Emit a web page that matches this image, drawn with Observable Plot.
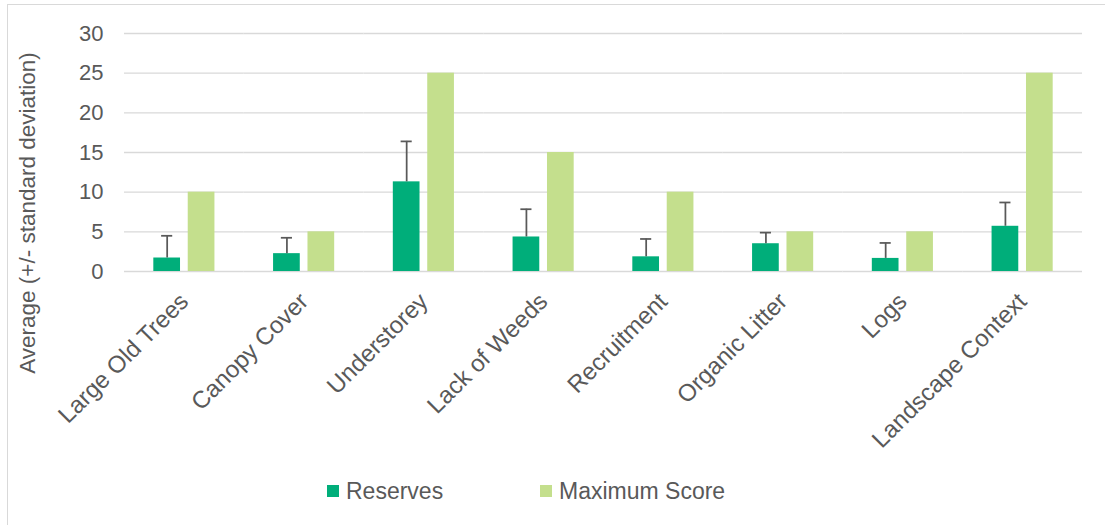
<!DOCTYPE html>
<html>
<head>
<meta charset="utf-8">
<script src="https://cdn.jsdelivr.net/npm/d3@7"></script>
<script src="https://cdn.jsdelivr.net/npm/@observablehq/plot@0.6"></script>
<style>
  body { margin: 0; background: #fff; overflow: hidden; font-family: "Liberation Sans", Arial, sans-serif; }
  #wrap { position: relative; width: 1105px; height: 525px; overflow: hidden; background: #fff; }
  #frame { position: absolute; left: 7px; top: 4px; width: 1120px; height: 540px; border: 1.5px solid #d9d9d9; box-sizing: border-box; }
  #chart { position: absolute; left: 0; top: 0; }
  #ylabel { position: absolute; left: 28px; top: 213px; transform: translate(-50%, -50%) rotate(-90deg); font-size: 22.5px; color: #595959; white-space: nowrap; line-height: 26px; }
  .leg { position: absolute; top: 478px; font-size: 23px; color: #595959; display: flex; align-items: center; white-space: nowrap; line-height: 26px; }
  .sw { width: 12px; height: 12px; margin-right: 7px; display: inline-block; }
</style>
</head>
<body>
<div id="wrap">
  <div id="frame"></div>
  <div id="chart"></div>
  <div id="ylabel"></div>
  <div id="legend"></div>
</div>
<script>
const categories = ["Large Old Trees", "Canopy Cover", "Understorey", "Lack of Weeds", "Recruitment", "Organic Litter", "Logs", "Landscape Context"];
const series = ["Reserves", "Maximum Score"];
const reserveMeans = [1.7, 2.25, 11.3, 4.35, 1.85, 3.5, 1.65, 5.7];
const reserveSD = [2.8, 2.0, 5.1, 3.5, 2.25, 1.4, 1.95, 3.0];
const maxScores = [10, 5, 25, 15, 10, 5, 5, 25];
const yTicks = [0, 5, 10, 15, 20, 25, 30];
const yTitle = "Average (+/- standard deviation)";
const colors = ["#00ae7a", "#c4df8d"];

const rows = categories.flatMap((c, i) => [
  {category: c, series: series[0], value: reserveMeans[i], sd: reserveSD[i]},
  {category: c, series: series[1], value: maxScores[i], sd: null}
]);
const errs = rows.filter(d => d.sd != null);

const chart = Plot.plot({
  width: 1105,
  height: 470,
  marginLeft: 124,
  marginRight: 23,
  marginTop: 33,
  marginBottom: 199,
  style: {fontFamily: "Liberation Sans, Arial, sans-serif", fontSize: "22px", color: "#595959", background: "transparent", overflow: "visible"},
  fx: {domain: categories, padding: 0, round: false, label: null},
  x: {domain: series, axis: null, paddingInner: 0.224, paddingOuter: 0.852, round: false},
  y: {domain: [0, 30], label: null},
  color: {domain: series, range: colors},
  marks: [
    Plot.gridY(yTicks, {stroke: "#d9d9d9", strokeOpacity: 1, strokeWidth: 1.4}),
    Plot.axisY(yTicks, {tickSize: 0, tickPadding: 21, fontSize: 22, label: null, fill: "#595959"}),
    Plot.axisFx({anchor: "bottom", tickSize: 0, tickRotate: -45, tickPadding: 26, fontSize: 24, label: null, fill: "#595959"}),
    Plot.barY(rows, {fx: "category", x: "series", y: "value", fill: "series"}),
    Plot.ruleX(errs, {fx: "category", x: "series", y1: "value", y2: d => d.value + d.sd, stroke: "#595959", strokeWidth: 1.75}),
    Plot.tickY(errs, {fx: "category", x: "series", y: d => d.value + d.sd, stroke: "#595959", strokeWidth: 1.75, insetLeft: 7.8, insetRight: 7.8})
  ]
});
document.getElementById("chart").appendChild(chart);
document.getElementById("ylabel").textContent = yTitle;

const legend = document.getElementById("legend");
const legendLeft = [327, 540];
series.forEach((s, i) => {
  const item = document.createElement("div");
  item.className = "leg";
  item.style.left = legendLeft[i] + "px";
  const sw = document.createElement("span");
  sw.className = "sw";
  sw.style.background = colors[i];
  item.appendChild(sw);
  item.appendChild(document.createTextNode(s));
  legend.appendChild(item);
});
</script>
</body>
</html>
